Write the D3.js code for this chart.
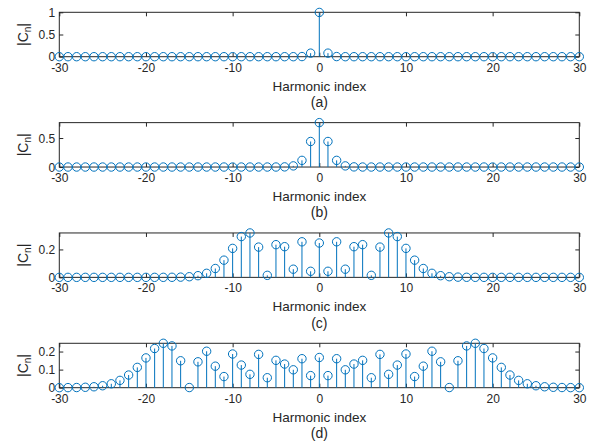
<!DOCTYPE html>
<html>
<head>
<meta charset="utf-8">
<script src="https://cdn.jsdelivr.net/npm/d3@7"></script>
<style>
  html, body { margin: 0; padding: 0; background: #ffffff; }
  svg { display: block; }
  text { font-family: "Liberation Sans", Arial, sans-serif; fill: #262626; }
</style>
</head>
<body>
<svg id="chart" width="598" height="444"></svg>
<script>
// Harmonic indices shown on every panel
const harmonics = d3.range(-30, 31);

// Spectral magnitudes |C_n| for n = -30 ... 30, one array per panel
const magA = [
  0,0,0,0,0,0,0,0,0,0, 0,0,0,0,0,0,0,0,0,0, 0,0,0,0,0,0,0,0,0.003,0.08,
  0.997,
  0.08,0.003,0,0,0,0,0,0,0,0, 0,0,0,0,0,0,0,0,0,0, 0,0,0,0,0,0,0,0,0,0
];
const magB = [
  0,0,0,0,0,0,0,0,0,0, 0,0,0,0,0,0,0,0,0,0, 0,0,0,0,0,0.0002,0.0025,0.0196,0.1149,0.4401,
  0.7652,
  0.4401,0.1149,0.0196,0.0025,0.0002,0,0,0,0,0, 0,0,0,0,0,0,0,0,0,0, 0,0,0,0,0,0,0,0,0,0
];
const magC = [
  0,0,0,0,0,0,0,0,0,0, 0,0.00004,0.00015,0.0005,0.0016,0.0045,0.012,0.029,0.0634,0.1231,
  0.2075,0.2919,0.3179,0.2167,0.0145,0.2341,0.2196,0.0584,0.2546,0.0435,
  0.2459,
  0.0435,0.2546,0.0584,0.2196,0.2341,0.0145,0.2167,0.3179,0.2919,0.2075,
  0.1231,0.0634,0.029,0.012,0.0045,0.0016,0.0005,0.00015,0.00004,0, 0,0,0,0,0,0,0,0,0,0
];
const magD = [
  0.0001,0.0004,0.0009,0.0022,0.0051,0.0108,0.0216,0.0404,0.07,0.1123,
  0.1647,0.2167,0.2456,0.231,0.1489,0.0008,0.1431,0.2016,0.119,0.0615,
  0.1863,0.1251,0.0739,0.1842,0.0551,0.1512,0.1307,0.0989,0.1603,0.0668,
  0.167,
  0.0668,0.1603,0.0989,0.1307,0.1512,0.0551,0.1842,0.0739,0.1251,0.1863,
  0.0615,0.119,0.2016,0.1431,0.0008,0.1489,0.231,0.2456,0.2167,0.1647,
  0.1123,0.07,0.0404,0.0216,0.0108,0.0051,0.0022,0.0009,0.0004,0.0001
];

// Tick values for each panel
const xTicks = [-30, -20, -10, 0, 10, 20, 30];
const yTicksA = [0, 0.5, 1];
const yTicksB = [0, 0.5];
const yTicksC = [0, 0.2];
const yTicksD = [0, 0.1, 0.2];
const panelLabels = ["(a)", "(b)", "(c)", "(d)"];

const panels = [
  { values: magA, yMax: 1,      yTicks: yTicksA, label: panelLabels[0] },
  { values: magB, yMax: 0.7652, yTicks: yTicksB, label: panelLabels[1] },
  { values: magC, yMax: 0.3179, yTicks: yTicksC, label: panelLabels[2] },
  { values: magD, yMax: 0.2456, yTicks: yTicksD, label: panelLabels[3] }
];

const stemColor = "#0072BD";
const axisColor = "#262626";
const left = 59.3, right = 579.3;
const plotH = 44.4, firstTop = 12.3, step = 110.33;
const tickLen = 4;

const svg = d3.select("#chart");

const x = d3.scaleLinear().domain([-30, 30]).range([left, right]);

panels.forEach((p, i) => {
  const top = firstTop + i * step;
  const bottom = top + plotH;
  const y = d3.scaleLinear().domain([0, p.yMax]).range([bottom, top]);
  const g = svg.append("g");

  // Bottom axis with inward ticks
  const xAxis = g.append("g")
    .attr("transform", `translate(0,${bottom})`)
    .call(d3.axisBottom(x).tickValues(xTicks).tickSizeInner(-tickLen).tickSizeOuter(0).tickPadding(0).tickFormat(d3.format("d")));
  xAxis.select(".domain").remove();
  xAxis.selectAll(".tick line").attr("stroke", axisColor);
  xAxis.selectAll(".tick text")
    .attr("y", 15).attr("dy", null)
    .attr("font-size", 12).attr("fill", axisColor)
    .text(d => d < 0 ? "-" + Math.abs(d) : d);

  // Top axis ticks (no labels)
  const xTop = g.append("g")
    .attr("transform", `translate(0,${top})`)
    .call(d3.axisTop(x).tickValues(xTicks).tickSizeInner(-tickLen).tickSizeOuter(0).tickFormat(""));
  xTop.select(".domain").remove();
  xTop.selectAll(".tick line").attr("stroke", axisColor);

  // Left axis with labels
  const yAxis = g.append("g")
    .attr("transform", `translate(${left},0)`)
    .call(d3.axisLeft(y).tickValues(p.yTicks).tickSizeInner(-tickLen).tickSizeOuter(0).tickPadding(0).tickFormat(d => String(d)));
  yAxis.select(".domain").remove();
  yAxis.selectAll(".tick line").attr("stroke", axisColor);
  yAxis.selectAll(".tick text")
    .attr("x", -4).attr("dy", "0.35em")
    .attr("font-size", 12).attr("fill", axisColor);

  // Right axis ticks
  const yRight = g.append("g")
    .attr("transform", `translate(${right},0)`)
    .call(d3.axisRight(y).tickValues(p.yTicks).tickSizeInner(-tickLen).tickSizeOuter(0).tickFormat(""));
  yRight.select(".domain").remove();
  yRight.selectAll(".tick line").attr("stroke", axisColor);

  // Axes box
  g.append("rect")
    .attr("x", left).attr("y", top)
    .attr("width", right - left).attr("height", plotH)
    .attr("fill", "none").attr("stroke", axisColor).attr("stroke-width", 1);

  // Stems
  const pts = harmonics.map((n, k) => ({ n, v: p.values[k] }));
  g.append("g").selectAll("line")
    .data(pts)
    .join("line")
    .attr("x1", d => x(d.n)).attr("x2", d => x(d.n))
    .attr("y1", y(0)).attr("y2", d => y(d.v))
    .attr("stroke", stemColor).attr("stroke-width", 1);

  // Markers
  g.append("g").selectAll("circle")
    .data(pts)
    .join("circle")
    .attr("cx", d => x(d.n)).attr("cy", d => y(d.v))
    .attr("r", 4.2)
    .attr("fill", "none").attr("stroke", stemColor).attr("stroke-width", 1);

  // Axis titles
  g.append("text")
    .attr("x", (left + right) / 2).attr("y", bottom + 34)
    .attr("text-anchor", "middle").attr("font-size", 13.5)
    .text("Harmonic index");

  const yl = g.append("text")
    .attr("transform", `translate(28,${(top + bottom) / 2}) rotate(-90)`)
    .attr("text-anchor", "middle").attr("font-size", 14);
  yl.append("tspan").text("|C");
  yl.append("tspan").attr("font-size", 10).attr("dy", 3).text("n");
  yl.append("tspan").attr("dy", -3).text("|");

  g.append("text")
    .attr("x", (left + right) / 2).attr("y", bottom + 50.3)
    .attr("text-anchor", "middle").attr("font-size", 14)
    .text(p.label);
});
</script>
</body>
</html>
